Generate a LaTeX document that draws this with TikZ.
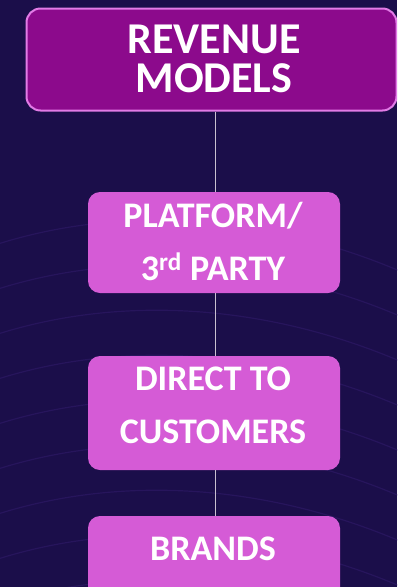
\documentclass[tikz,border=0pt]{standalone}
\usepackage{fontspec}
\setmainfont{Carlito}
\definecolor{bgc}{HTML}{1B0E4A}
\definecolor{arcc}{HTML}{27155C}
\definecolor{topfill}{HTML}{8C0A8C}
\definecolor{topedge}{HTML}{E27BE6}
\definecolor{boxfill}{HTML}{D55BD6}
\definecolor{linec}{HTML}{C8C0D0}
\tikzset{
  topbox/.style={draw=topedge, line width=2pt, fill=topfill, rounded corners=14pt, inner sep=0pt},
  subbox/.style={fill=boxfill, rounded corners=12pt, inner sep=0pt},
  toptxt/.style={text=white, font=\bfseries\fontsize{44}{44}\selectfont, anchor=base, inner sep=0pt, text height=28pt, text depth=0pt},
  subtxt/.style={text=white, font=\bfseries\fontsize{36}{36}\selectfont, anchor=base, inner sep=0pt, text height=26pt, text depth=0pt},
  conn/.style={draw=linec, line width=1pt}
}
\begin{document}
\begin{tikzpicture}[x=1pt,y=-1pt]
\useasboundingbox (0,0) rectangle (397,587);
\clip (0,0) rectangle (397,587);
\fill[bgc] (0,0) rectangle (397,587);
\foreach \i in {0,...,9} {
  \draw[arcc, line width=1.2pt] (-20,{250+\i*45}) .. controls (120,{200+\i*45}) and (280,{215+\i*45}) .. (420,{280+\i*45});
}
\node[topbox, minimum width=370pt, minimum height=102pt] (rev) at (211.5,59.5) {};
\node[toptxt] (rev1) at (214,53) {REVENUE};
\node[toptxt] (rev2) at (214,92) {MODELS};
\node[subbox, minimum width=252pt, minimum height=101pt] (plat) at (214,242.5) {};
\node[subtxt] (plat1) at (213,227) {PLATFORM/};
\node[subtxt] (plat2) at (213,280) {3\textsuperscript{rd} PARTY};
\node[subbox, minimum width=252pt, minimum height=114pt] (dtc) at (214,413) {};
\node[subtxt] (dtc1) at (213,390) {DIRECT TO};
\node[subtxt] (dtc2) at (213,443) {CUSTOMERS};
\node[subbox, minimum width=252pt, minimum height=100pt] (brand) at (214,566) {};
\node[subtxt] (brand1) at (213,560) {BRANDS};
\draw[conn] (rev.south -| 215,0) -- (plat.north -| 215,0);
\draw[conn] (plat.south -| 215,0) -- (dtc.north -| 215,0);
\draw[conn] (dtc.south -| 215,0) -- (brand.north -| 215,0);
\end{tikzpicture}
\end{document}
